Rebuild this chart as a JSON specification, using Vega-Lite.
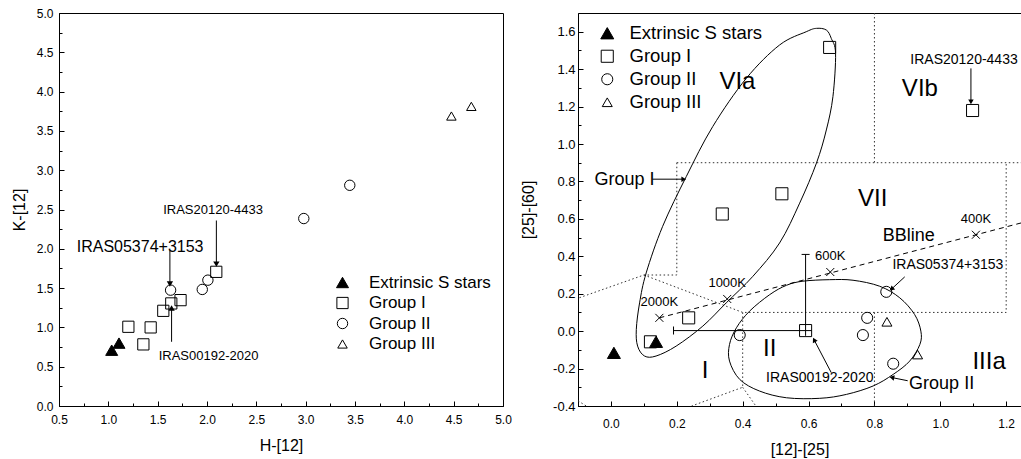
{
"$schema":"https://vega.github.io/schema/vega-lite/v6.json",
"padding":{"left":10,"top":6,"right":0,"bottom":0},
"background":"white",
"config":{"font":"Liberation Sans","view":{"stroke":"black","strokeWidth":1},
 "axis":{"grid":false,"domainColor":"black","tickColor":"black","labelColor":"black","titleColor":"black","labelFont":"Liberation Sans","titleFont":"Liberation Sans","titleFontWeight":"normal","labelFlush":false,"labelOverlap":false,"labelBound":false,"domainWidth":1,"tickWidth":1,"tickCount":100},
 "text":{"font":"Liberation Sans","color":"black"}
},
"spacing":8,
"datasets":{
 "lp":[
  {"h":1.034,"k":0.71,"group":"Extrinsic S stars"},
  {"h":1.108,"k":0.80,"group":"Extrinsic S stars"},
  {"h":1.203,"k":1.008,"group":"Group I"},
  {"h":1.355,"k":0.784,"group":"Group I"},
  {"h":1.429,"k":1.0,"group":"Group I"},
  {"h":1.557,"k":1.211,"group":"Group I"},
  {"h":1.638,"k":1.305,"group":"Group I"},
  {"h":1.732,"k":1.347,"group":"Group I"},
  {"h":2.094,"k":1.707,"group":"Group I"},
  {"h":1.631,"k":1.474,"group":"Group II"},
  {"h":1.952,"k":1.483,"group":"Group II"},
  {"h":2.009,"k":1.601,"group":"Group II"},
  {"h":2.981,"k":2.385,"group":"Group II"},
  {"h":3.447,"k":2.808,"group":"Group II"},
  {"h":4.477,"k":3.689,"group":"Group III"},
  {"h":4.679,"k":3.812,"group":"Group III"}
 ],
 "la":[
  {"label":"IRAS20120-4433","x":2.095,"y":2.36,"y2":1.805},
  {"label":"IRAS05374+3153","x":1.624,"y":1.98,"y2":1.551},
  {"label":"IRAS00192-2020","x":1.641,"y":0.817,"y2":1.248}
 ],
 "lt":[
  {"t":"IRAS20120-4433","x":2.061,"y":2.49},
  {"t":"IRAS05374+3153","x":1.322,"y":2.024},
  {"t":"IRAS00192-2020","x":2.016,"y":0.635}
 ],
 "rp":[
  {"c12":0.009,"c25":-0.116,"group":"Extrinsic S stars"},
  {"c12":0.137,"c25":-0.057,"group":"Extrinsic S stars"},
  {"c12":0.12,"c25":-0.057,"group":"Group I"},
  {"c12":0.236,"c25":0.071,"group":"Group I"},
  {"c12":0.338,"c25":0.626,"group":"Group I"},
  {"c12":0.519,"c25":0.734,"group":"Group I"},
  {"c12":0.664,"c25":1.516,"group":"Group I"},
  {"c12":1.098,"c25":1.179,"group":"Group I"},
  {"c12":0.591,"c25":0.003,"group":"Group I"},
  {"c12":0.391,"c25":-0.021,"group":"Group II"},
  {"c12":0.836,"c25":0.21,"group":"Group II"},
  {"c12":0.778,"c25":0.071,"group":"Group II"},
  {"c12":0.765,"c25":-0.021,"group":"Group II"},
  {"c12":0.857,"c25":-0.174,"group":"Group II"},
  {"c12":0.838,"c25":0.05,"group":"Group III"},
  {"c12":0.931,"c25":-0.125,"group":"Group III"}
 ],
 "el":[
  {"e":"Group I","i":1,"x":0.593,"y":1.600},
  {"e":"Group I","i":2,"x":0.624,"y":1.618},
  {"e":"Group I","i":3,"x":0.654,"y":1.609},
  {"e":"Group I","i":4,"x":0.669,"y":1.564},
  {"e":"Group I","i":5,"x":0.682,"y":1.484},
  {"e":"Group I","i":6,"x":0.674,"y":1.253},
  {"e":"Group I","i":7,"x":0.654,"y":1.075},
  {"e":"Group I","i":8,"x":0.624,"y":0.898},
  {"e":"Group I","i":9,"x":0.573,"y":0.684},
  {"e":"Group I","i":10,"x":0.512,"y":0.471},
  {"e":"Group I","i":11,"x":0.431,"y":0.293},
  {"e":"Group I","i":12,"x":0.350,"y":0.151},
  {"e":"Group I","i":13,"x":0.279,"y":0.027},
  {"e":"Group I","i":14,"x":0.198,"y":-0.080},
  {"e":"Group I","i":15,"x":0.137,"y":-0.133},
  {"e":"Group I","i":16,"x":0.102,"y":-0.133},
  {"e":"Group I","i":17,"x":0.081,"y":-0.080},
  {"e":"Group I","i":18,"x":0.077,"y":0.009},
  {"e":"Group I","i":19,"x":0.087,"y":0.151},
  {"e":"Group I","i":20,"x":0.107,"y":0.311},
  {"e":"Group I","i":21,"x":0.157,"y":0.560},
  {"e":"Group I","i":22,"x":0.229,"y":0.827},
  {"e":"Group I","i":23,"x":0.309,"y":1.093},
  {"e":"Group I","i":24,"x":0.411,"y":1.351},
  {"e":"Group I","i":25,"x":0.512,"y":1.529},
  {"e":"Group II","i":1,"x":0.360,"y":-0.071},
  {"e":"Group II","i":2,"x":0.360,"y":-0.160},
  {"e":"Group II","i":3,"x":0.391,"y":-0.258},
  {"e":"Group II","i":4,"x":0.451,"y":-0.320},
  {"e":"Group II","i":5,"x":0.533,"y":-0.356},
  {"e":"Group II","i":6,"x":0.634,"y":-0.359},
  {"e":"Group II","i":7,"x":0.715,"y":-0.338},
  {"e":"Group II","i":8,"x":0.796,"y":-0.293},
  {"e":"Group II","i":9,"x":0.857,"y":-0.231},
  {"e":"Group II","i":10,"x":0.907,"y":-0.160},
  {"e":"Group II","i":11,"x":0.938,"y":-0.071},
  {"e":"Group II","i":12,"x":0.941,"y":0.0},
  {"e":"Group II","i":13,"x":0.922,"y":0.089},
  {"e":"Group II","i":14,"x":0.877,"y":0.178},
  {"e":"Group II","i":15,"x":0.816,"y":0.240},
  {"e":"Group II","i":16,"x":0.735,"y":0.272},
  {"e":"Group II","i":17,"x":0.664,"y":0.275},
  {"e":"Group II","i":18,"x":0.583,"y":0.267},
  {"e":"Group II","i":19,"x":0.533,"y":0.245},
  {"e":"Group II","i":20,"x":0.482,"y":0.195},
  {"e":"Group II","i":21,"x":0.421,"y":0.107},
  {"e":"Group II","i":22,"x":0.381,"y":0.018}
 ],
 "bd":[
  {"s":1,"i":1,"x":0.8,"y":1.7},{"s":1,"i":2,"x":0.8,"y":0.9},
  {"s":2,"i":1,"x":0.2,"y":0.9},{"s":2,"i":2,"x":1.245,"y":0.9},
  {"s":3,"i":1,"x":0.2,"y":0.9},{"s":3,"i":2,"x":0.2,"y":0.3},{"s":3,"i":3,"x":0.1,"y":0.3},{"s":3,"i":4,"x":-0.1,"y":0.176},
  {"s":4,"i":1,"x":0.1,"y":0.3},{"s":4,"i":2,"x":0.4,"y":0.1},{"s":4,"i":3,"x":1.2,"y":0.1},{"s":4,"i":4,"x":1.2,"y":0.9},
  {"s":5,"i":1,"x":0.4,"y":0.1},{"s":5,"i":2,"x":0.4,"y":-0.3},{"s":5,"i":3,"x":0.245,"y":-0.4},
  {"s":6,"i":1,"x":0.4,"y":-0.3},{"s":6,"i":2,"x":0.44,"y":-0.4},
  {"s":7,"i":1,"x":0.8,"y":0.1},{"s":7,"i":2,"x":0.8,"y":-0.4},
  {"s":8,"i":1,"x":-0.1,"y":-0.372},{"s":8,"i":2,"x":-0.075,"y":-0.4}
 ],
 "bb":[{"x":0.147,"y":0.071},{"x":1.245,"y":0.578}],
 "bbt":[
  {"t":"2000K","x":0.147,"y":0.071},
  {"t":"1000K","x":0.353,"y":0.172},
  {"t":"600K","x":0.666,"y":0.316},
  {"t":"400K","x":1.108,"y":0.515}
 ],
 "eb":[{"x":0.591,"y":0.003,"xlo":0.19,"xhi":0.61,"ylo":-0.025,"yhi":0.41}],
 "ra":[
  {"label":"Group I","x":0.126,"y":0.812,"x2":0.221,"y2":0.812},
  {"label":"IRAS20120-4433","x":1.093,"y":1.404,"x2":1.093,"y2":1.225},
  {"label":"IRAS05374+3153","x":0.892,"y":0.29,"x2":0.852,"y2":0.225},
  {"label":"IRAS00192-2020","x":0.669,"y":-0.222,"x2":0.617,"y2":-0.047},
  {"label":"Group II","x":0.901,"y":-0.265,"x2":0.853,"y2":-0.248}
 ],
 "rrl":[
  {"t":"VIa","x":0.384,"y":1.329},
  {"t":"VIb","x":0.938,"y":1.292},
  {"t":"VII","x":0.795,"y":0.706},
  {"t":"I","x":0.286,"y":-0.214},
  {"t":"II","x":0.482,"y":-0.094},
  {"t":"IIIa","x":1.148,"y":-0.164}
 ],
 "ran":[
  {"t":"BBline","x":0.904,"y":0.511},
  {"t":"Group I","x":0.041,"y":0.807},
  {"t":"Group II","x":1.004,"y":-0.281},
  {"t":"IRAS20120-4433","x":1.072,"y":1.449},
  {"t":"IRAS05374+3153","x":1.023,"y":0.355},
  {"t":"IRAS00192-2020","x":0.634,"y":-0.249}
 ]
},
"resolve":{"scale":{"shape":"independent","fill":"independent","size":"independent","stroke":"independent"},"legend":{"shape":"independent","fill":"independent","size":"independent","stroke":"independent"}},
"hconcat":[
 {
  "width":444,"height":393,
  "layer":[
   {"data":{"name":"la"},"mark":{"type":"rule","color":"black","strokeWidth":1},
    "encoding":{
     "x":{"field":"x","type":"quantitative","title":"H-[12]","scale":{"domain":[0.5,5],"nice":false,"zero":false},
      "axis":{"values":[0.5,0.75,1,1.25,1.5,1.75,2,2.25,2.5,2.75,3,3.25,3.5,3.75,4,4.25,4.5,4.75,5],
       "tickCount":100,
       "tickSize":{"condition":{"test":"abs(datum.value*2-round(datum.value*2))<0.001","value":-5},"value":-3},
       "labelExpr":"abs(datum.value*2-round(datum.value*2))<0.001 ? format(datum.value,'.1f') : ''",
       "labelOverlap":false,"labelFontSize":12,"labelPadding":13,"titleFontSize":16,"titlePadding":10}},
     "y":{"field":"y","type":"quantitative","title":"K-[12]","scale":{"domain":[0,5],"nice":false,"zero":false},
      "axis":{"values":[0,0.25,0.5,0.75,1,1.25,1.5,1.75,2,2.25,2.5,2.75,3,3.25,3.5,3.75,4,4.25,4.5,4.75,5],
       "tickCount":100,
       "tickSize":{"condition":{"test":"abs(datum.value*2-round(datum.value*2))<0.001","value":-5},"value":-3},
       "labelExpr":"abs(datum.value*2-round(datum.value*2))<0.001 ? format(datum.value,'.1f') : ''",
       "labelOverlap":false,"labelFontSize":12,"labelPadding":11,"titleFontSize":16,"titlePadding":9}},
     "y2":{"field":"y2"}}},
   {"data":{"name":"la"},"transform":[{"filter":"datum.label != 'IRAS00192-2020'"}],
    "mark":{"type":"point","shape":"triangle-down","filled":true,"color":"black","size":40,"opacity":1},
    "encoding":{"x":{"field":"x","type":"quantitative"},"y":{"field":"y2","type":"quantitative"}}},
   {"data":{"name":"la"},"transform":[{"filter":"datum.label == 'IRAS00192-2020'"}],
    "mark":{"type":"point","shape":"triangle-up","filled":true,"color":"black","size":40,"opacity":1},
    "encoding":{"x":{"field":"x","type":"quantitative"},"y":{"field":"y2","type":"quantitative"}}},
   {"data":{"name":"lt"},"transform":[{"filter":"datum.t == 'IRAS05374+3153'"}],
    "mark":{"type":"text","fontSize":16,"align":"center","baseline":"middle"},
    "encoding":{"x":{"field":"x","type":"quantitative"},"y":{"field":"y","type":"quantitative"},"text":{"field":"t"}}},
   {"data":{"name":"lt"},"transform":[{"filter":"datum.t != 'IRAS05374+3153'"}],
    "mark":{"type":"text","fontSize":13,"align":"center","baseline":"middle"},
    "encoding":{"x":{"field":"x","type":"quantitative"},"y":{"field":"y","type":"quantitative"},"text":{"field":"t"}}},
   {"data":{"name":"lp"},"mark":{"type":"point","filled":true,"strokeWidth":1,"opacity":1},
    "encoding":{
     "x":{"field":"h","type":"quantitative"},
     "y":{"field":"k","type":"quantitative"},
     "shape":{"field":"group","type":"nominal","scale":{"domain":["Extrinsic S stars","Group I","Group II","Group III"],"range":["triangle-up","square","circle","triangle-up"]},
      "legend":{"orient":"none","legendX":275,"legendY":261,"title":null,"labelFontSize":17,"labelColor":"black","rowPadding":2.5,"labelOffset":18,"padding":0,"symbolStrokeWidth":1}},
     "fill":{"field":"group","type":"nominal","scale":{"domain":["Extrinsic S stars","Group I","Group II","Group III"],"range":["black","transparent","transparent","transparent"]},
      "legend":{"orient":"none","legendX":275,"legendY":261,"title":null,"labelFontSize":17,"labelColor":"black","rowPadding":2.5,"labelOffset":18,"padding":0,"symbolStrokeWidth":1}},
     "stroke":{"field":"group","type":"nominal","scale":{"domain":["Extrinsic S stars","Group I","Group II","Group III"],"range":["black","black","black","black"]},
      "legend":{"orient":"none","legendX":275,"legendY":261,"title":null,"labelFontSize":17,"labelColor":"black","rowPadding":2.5,"labelOffset":18,"padding":0,"symbolStrokeWidth":1}},
     "size":{"field":"group","type":"ordinal","scale":{"domain":["Extrinsic S stars","Group I","Group II","Group III"],"range":[144,90,100,121]},
      "legend":{"orient":"none","legendX":275,"legendY":261,"title":null,"labelFontSize":17,"labelColor":"black","rowPadding":2.5,"labelOffset":18,"padding":0,"symbolStrokeWidth":1}}
    }}
  ]
 },
 {
  "width":443,"height":393,
  "layer":[
   {"data":{"name":"bd"},"mark":{"type":"line","color":"#333","strokeWidth":1,"strokeDash":[1.5,2.5],"clip":true},
    "encoding":{
     "x":{"field":"x","type":"quantitative","title":"[12]-[25]","scale":{"domain":[-0.1,1.245],"nice":false,"zero":false},
      "axis":{"values":[-0.1,0,0.1,0.2,0.3,0.4,0.5,0.6,0.7,0.8,0.9,1.0,1.1,1.2],
       "tickCount":100,
       "tickSize":{"condition":{"test":"abs(datum.value*5-round(datum.value*5))<0.001","value":-5},"value":-3},
       "labelExpr":"abs(datum.value*5-round(datum.value*5))<0.001 ? replace(format(datum.value,'.1f'),'\u2212','-') : ''",
       "labelOverlap":false,"labelFontSize":12,"labelPadding":17,"titleFontSize":16,"titlePadding":10}},
     "y":{"field":"y","type":"quantitative","title":"[25]-[60]","scale":{"domain":[-0.4,1.7],"nice":false,"zero":false},
      "axis":{"values":[-0.4,-0.3,-0.2,-0.1,0,0.1,0.2,0.3,0.4,0.5,0.6,0.7,0.8,0.9,1.0,1.1,1.2,1.3,1.4,1.5,1.6],
       "tickCount":100,
       "tickSize":{"condition":{"test":"abs(datum.value*5-round(datum.value*5))<0.001","value":-5},"value":-3},
       "labelExpr":"abs(datum.value*5-round(datum.value*5))<0.001 ? replace(format(datum.value,'.1f'),'\u2212','-') : ''",
       "labelOverlap":false,"labelFontSize":13,"labelPadding":8,"titleFontSize":16,"titlePadding":16}},
     "detail":{"field":"s","type":"nominal"},
     "order":{"field":"i","type":"quantitative"}}},
   {"data":{"name":"el"},"mark":{"type":"line","color":"black","strokeWidth":1,"interpolate":"cardinal-closed","clip":true},
    "encoding":{"x":{"field":"x","type":"quantitative"},"y":{"field":"y","type":"quantitative"},
     "detail":{"field":"e","type":"nominal"},"order":{"field":"i","type":"quantitative"}}},
   {"data":{"name":"bb"},"mark":{"type":"line","color":"black","strokeWidth":1,"strokeDash":[5,4],"clip":true},
    "encoding":{"x":{"field":"x","type":"quantitative"},"y":{"field":"y","type":"quantitative"}}},
   {"data":{"name":"bbt"},"mark":{"type":"point","shape":"M-1,-1L1,1M-1,1L1,-1","filled":false,"color":"black","strokeWidth":1,"size":64,"opacity":1},
    "encoding":{"x":{"field":"x","type":"quantitative"},"y":{"field":"y","type":"quantitative"}}},
   {"data":{"name":"bbt"},"mark":{"type":"text","fontSize":13,"align":"center","baseline":"middle","dy":-16},
    "encoding":{"x":{"field":"x","type":"quantitative"},"y":{"field":"y","type":"quantitative"},"text":{"field":"t"}}},
   {"data":{"name":"eb"},"mark":{"type":"rule","color":"black","strokeWidth":1},
    "encoding":{"x":{"field":"xlo","type":"quantitative"},"x2":{"field":"xhi"},"y":{"field":"y","type":"quantitative"}}},
   {"data":{"name":"eb"},"mark":{"type":"rule","color":"black","strokeWidth":1},
    "encoding":{"x":{"field":"x","type":"quantitative"},"y":{"field":"ylo","type":"quantitative"},"y2":{"field":"yhi"}}},
   {"data":{"name":"eb"},"mark":{"type":"tick","orient":"vertical","color":"black","thickness":1,"size":8,"opacity":1},
    "encoding":{"x":{"field":"xlo","type":"quantitative"},"y":{"field":"y","type":"quantitative"}}},
   {"data":{"name":"eb"},"mark":{"type":"tick","orient":"horizontal","color":"black","thickness":1,"size":8,"opacity":1},
    "encoding":{"x":{"field":"x","type":"quantitative"},"y":{"field":"yhi","type":"quantitative"}}},
   {"data":{"name":"ra"},"mark":{"type":"rule","color":"black","strokeWidth":1},
    "encoding":{"x":{"field":"x","type":"quantitative"},"y":{"field":"y","type":"quantitative"},"x2":{"field":"x2"},"y2":{"field":"y2"}}},
   {"data":{"name":"ra"},"transform":[{"filter":"datum.label == 'Group I'"}],
    "mark":{"type":"point","shape":"triangle-up","angle":90,"filled":true,"color":"black","size":30,"opacity":1},
    "encoding":{"x":{"field":"x2","type":"quantitative"},"y":{"field":"y2","type":"quantitative"}}},
   {"data":{"name":"ra"},"transform":[{"filter":"datum.label == 'IRAS20120-4433'"}],
    "mark":{"type":"point","shape":"triangle-up","angle":180,"filled":true,"color":"black","size":30,"opacity":1},
    "encoding":{"x":{"field":"x2","type":"quantitative"},"y":{"field":"y2","type":"quantitative"}}},
   {"data":{"name":"ra"},"transform":[{"filter":"datum.label == 'IRAS05374+3153'"}],
    "mark":{"type":"point","shape":"triangle-up","angle":228,"filled":true,"color":"black","size":30,"opacity":1},
    "encoding":{"x":{"field":"x2","type":"quantitative"},"y":{"field":"y2","type":"quantitative"}}},
   {"data":{"name":"ra"},"transform":[{"filter":"datum.label == 'IRAS00192-2020'"}],
    "mark":{"type":"point","shape":"triangle-up","angle":332,"filled":true,"color":"black","size":30,"opacity":1},
    "encoding":{"x":{"field":"x2","type":"quantitative"},"y":{"field":"y2","type":"quantitative"}}},
   {"data":{"name":"ra"},"transform":[{"filter":"datum.label == 'Group II'"}],
    "mark":{"type":"point","shape":"triangle-up","angle":282,"filled":true,"color":"black","size":30,"opacity":1},
    "encoding":{"x":{"field":"x2","type":"quantitative"},"y":{"field":"y2","type":"quantitative"}}},
   {"data":{"name":"rrl"},"mark":{"type":"text","fontSize":24,"align":"center","baseline":"middle"},
    "encoding":{"x":{"field":"x","type":"quantitative"},"y":{"field":"y","type":"quantitative"},"text":{"field":"t"}}},
   {"data":{"name":"ran"},"transform":[{"filter":"indexof(datum.t,'IRAS') != 0"}],
    "mark":{"type":"text","fontSize":18,"align":"center","baseline":"middle"},
    "encoding":{"x":{"field":"x","type":"quantitative"},"y":{"field":"y","type":"quantitative"},"text":{"field":"t"}}},
   {"data":{"name":"ran"},"transform":[{"filter":"indexof(datum.t,'IRAS') == 0"}],
    "mark":{"type":"text","fontSize":14,"align":"center","baseline":"middle"},
    "encoding":{"x":{"field":"x","type":"quantitative"},"y":{"field":"y","type":"quantitative"},"text":{"field":"t"}}},
   {"data":{"name":"rp"},"mark":{"type":"point","filled":true,"strokeWidth":1,"opacity":1},
    "encoding":{
     "x":{"field":"c12","type":"quantitative"},
     "y":{"field":"c25","type":"quantitative"},
     "shape":{"field":"group","type":"nominal","scale":{"domain":["Extrinsic S stars","Group I","Group II","Group III"],"range":["triangle-up","square","circle","triangle-up"]},
      "legend":{"orient":"none","legendX":20,"legendY":11,"title":null,"labelFontSize":18.5,"labelColor":"black","rowPadding":4,"labelOffset":13,"padding":0,"symbolStrokeWidth":1}},
     "fill":{"field":"group","type":"nominal","scale":{"domain":["Extrinsic S stars","Group I","Group II","Group III"],"range":["black","transparent","transparent","transparent"]},
      "legend":{"orient":"none","legendX":20,"legendY":11,"title":null,"labelFontSize":18.5,"labelColor":"black","rowPadding":4,"labelOffset":13,"padding":0,"symbolStrokeWidth":1}},
     "stroke":{"field":"group","type":"nominal","scale":{"domain":["Extrinsic S stars","Group I","Group II","Group III"],"range":["black","black","black","black"]},
      "legend":{"orient":"none","legendX":20,"legendY":11,"title":null,"labelFontSize":18.5,"labelColor":"black","rowPadding":4,"labelOffset":13,"padding":0,"symbolStrokeWidth":1}},
     "size":{"field":"group","type":"ordinal","scale":{"domain":["Extrinsic S stars","Group I","Group II","Group III"],"range":[169,100,110,137]},
      "legend":{"orient":"none","legendX":20,"legendY":11,"title":null,"labelFontSize":18.5,"labelColor":"black","rowPadding":4,"labelOffset":13,"padding":0,"symbolStrokeWidth":1}}
    }}
  ]
 }
]
}
